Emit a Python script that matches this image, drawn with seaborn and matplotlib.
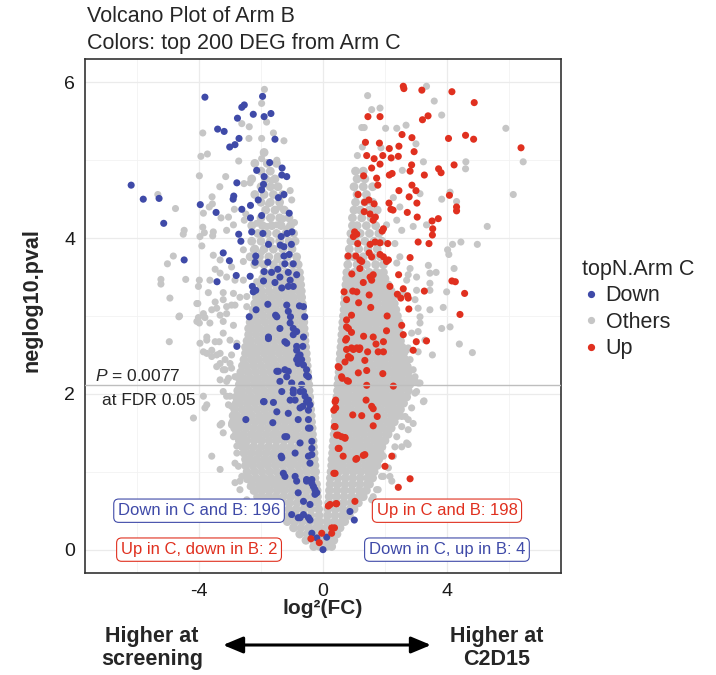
import pandas as pd
import matplotlib.pyplot as plt
import seaborn as sns
from matplotlib.lines import Line2D

# colours
col_down = '#3F4AA8'
col_up = '#E0301F'
col_other = '#C6C6C6'

# dense grey core: (neglog10 p, [log2FC ...])
tip_rows = [
    (0.04, [-0.3, -0.1, 0.1, 0.28]),
    (0.12, [-0.55, -0.31, -0.07, 0.17, 0.35]),
    (0.20, [-0.75, -0.51, -0.27, -0.06, 0.06, 0.21, 0.45]),
]

left_rows = [
    (0.28, [-0.95, -0.71, -0.47, -0.23, -0.10]),
    (0.36, [-1.15, -0.91, -0.67, -0.43, -0.19, -0.11]),
    (0.44, [-1.35, -1.11, -0.87, -0.63, -0.39, -0.13]),
    (0.52, [-1.58, -1.34, -1.10, -0.86, -0.62, -0.38, -0.14]),
    (0.60, [-1.80, -1.56, -1.32, -1.08, -0.84, -0.60, -0.36, -0.16]),
    (0.68, [-2.00, -1.76, -1.52, -1.28, -1.04, -0.80, -0.56, -0.32, -0.18]),
    (0.76, [-2.20, -1.96, -1.72, -1.48, -1.24, -1.00, -0.76, -0.52, -0.30, -0.19]),
    (0.84, [-2.30, -2.06, -1.82, -1.58, -1.34, -1.10, -0.86, -0.62, -0.38, -0.21]),
    (0.92, [-2.40, -2.16, -1.92, -1.68, -1.44, -1.20, -0.96, -0.72, -0.48, -0.26]),
    (1.00, [-2.45, -2.21, -1.97, -1.73, -1.49, -1.25, -1.01, -0.77, -0.53, -0.29, -0.24]),
    (1.08, [-2.50, -2.26, -2.02, -1.78, -1.54, -1.30, -1.06, -0.82, -0.58, -0.34, -0.26]),
    (1.16, [-2.50, -2.38, -2.14, -1.90, -1.66, -1.42, -1.18, -0.94, -0.70, -0.46, -0.28]),
    (1.24, [-2.55, -2.31, -2.07, -1.83, -1.59, -1.35, -1.11, -0.87, -0.63, -0.39, -0.29]),
    (1.32, [-2.60, -2.48, -2.24, -2.00, -1.76, -1.52, -1.28, -1.04, -0.80, -0.56, -0.31]),
    (1.40, [-2.70, -2.46, -2.22, -1.98, -1.74, -1.50, -1.26, -1.02, -0.78, -0.54, -0.32]),
    (1.48, [-2.80, -2.56, -2.32, -2.08, -1.84, -1.60, -1.36, -1.12, -0.88, -0.64, -0.40, -0.34]),
    (1.56, [-2.85, -2.73, -2.49, -2.25, -2.01, -1.77, -1.53, -1.29, -1.05, -0.81, -0.57, -0.35]),
    (1.64, [-2.90, -2.66, -2.42, -2.18, -1.94, -1.70, -1.46, -1.22, -0.98, -0.74, -0.50, -0.37]),
    (1.72, [-2.90, -2.78, -2.54, -2.30, -2.06, -1.82, -1.58, -1.34, -1.10, -0.86, -0.62, -0.38]),
    (1.80, [-2.85, -2.61, -2.37, -2.13, -1.89, -1.65, -1.41, -1.17, -0.93, -0.69, -0.45, -0.40]),
    (1.88, [-2.80, -2.68, -2.44, -2.20, -1.96, -1.72, -1.48, -1.24, -1.00, -0.76, -0.52, -0.42]),
    (1.96, [-2.80, -2.56, -2.32, -2.08, -1.84, -1.60, -1.36, -1.12, -0.88, -0.64, -0.43]),
    (2.04, [-2.75, -2.63, -2.39, -2.15, -1.91, -1.67, -1.43, -1.19, -0.95, -0.71, -0.47, -0.45]),
    (2.12, [-2.70, -2.46, -2.22, -1.98, -1.74, -1.50, -1.26, -1.02, -0.78, -0.54, -0.46]),
    (2.20, [-2.70, -2.58, -2.34, -2.10, -1.86, -1.62, -1.38, -1.14, -0.90, -0.66, -0.48]),
    (2.28, [-2.65, -2.41, -2.17, -1.93, -1.69, -1.45, -1.21, -0.97, -0.73, -0.50]),
    (2.36, [-2.60, -2.48, -2.24, -2.00, -1.76, -1.52, -1.28, -1.04, -0.80, -0.56, -0.51]),
    (2.44, [-2.55, -2.31, -2.07, -1.83, -1.59, -1.35, -1.11, -0.87, -0.63, -0.53]),
    (2.52, [-2.50, -2.38, -2.14, -1.90, -1.66, -1.42, -1.18, -0.94, -0.70, -0.54]),
    (2.60, [-2.50, -2.26, -2.02, -1.78, -1.54, -1.30, -1.06, -0.82, -0.58, -0.56]),
    (2.68, [-2.45, -2.33, -2.09, -1.85, -1.61, -1.37, -1.13, -0.89, -0.65, -0.58]),
    (2.76, [-2.40, -2.16, -1.92, -1.68, -1.44, -1.20, -0.96, -0.72, -0.59]),
    (2.84, [-2.40, -2.28, -2.04, -1.80, -1.56, -1.32, -1.08, -0.84, -0.61]),
    (2.92, [-2.35, -2.11, -1.87, -1.63, -1.39, -1.15, -0.91, -0.67, -0.62]),
    (3.00, [-2.30, -2.18, -1.94, -1.70, -1.46, -1.22, -0.98, -0.74, -0.64]),
    (3.08, [-2.25, -2.01, -1.77, -1.53, -1.29, -1.05, -0.81, -0.66]),
    (3.16, [-2.20, -2.08, -1.84, -1.60, -1.36, -1.12, -0.88, -0.67]),
    (3.24, [-2.15, -1.91, -1.67, -1.43, -1.19, -0.95, -0.71, -0.69]),
    (3.32, [-2.10, -1.98, -1.74, -1.50, -1.26, -1.02, -0.78, -0.70]),
    (3.40, [-2.00, -1.76, -1.52, -1.28, -1.04, -0.80, -0.72]),
    (3.48, [-1.95, -1.83, -1.59, -1.35, -1.11, -0.87, -0.74]),
    (3.56, [-1.90, -1.66, -1.42, -1.18, -0.94, -0.76]),
    (3.66, [-2.2, -1.9, -1.6, -1.3, -1.0, -0.8]),
    (3.76, [-2.35, -2.05, -1.75, -1.45, -1.15, -0.85]),
    (3.86, [-2.2, -1.9, -1.6, -1.3, -1.0]),
    (3.96, [-2.3, -2.0, -1.7, -1.4, -1.1, -0.9]),
    (4.06, [-2.1, -1.8, -1.5, -1.2, -0.95]),
    (4.16, [-2.3, -1.95, -1.65, -1.35, -1.05]),
    (4.26, [-2.0, -1.7, -1.4, -1.1]),
    (4.36, [-1.85, -1.55, -1.25]),
    (4.46, [-2.0, -1.7, -1.4]),
    (4.56, [-2.2, -1.9, -1.6, -1.3]),
    (4.66, [-2.0, -1.7, -1.45]),
    (4.76, [-2.3, -1.85, -1.55]),
    (4.86, [-2.0, -1.7]),
    (4.96, [-2.2, -1.8, -1.5]),
    (5.10, [-1.9]),
]

right_rows = [
    (0.28, [0.12, 0.36, 0.55]),
    (0.36, [0.13, 0.37, 0.61, 0.70]),
    (0.44, [0.15, 0.39, 0.63, 0.85]),
    (0.52, [0.16, 0.40, 0.64, 0.88, 1.00]),
    (0.60, [0.18, 0.42, 0.66, 0.90, 1.14]),
    (0.68, [0.20, 0.44, 0.68, 0.92, 1.16, 1.30]),
    (0.76, [0.21, 0.45, 0.69, 0.93, 1.17, 1.40]),
    (0.84, [0.23, 0.47, 0.71, 0.95, 1.19, 1.43, 1.50]),
    (0.92, [0.24, 0.48, 0.72, 0.96, 1.20, 1.44, 1.60]),
    (1.00, [0.26, 0.50, 0.74, 0.98, 1.22, 1.46, 1.65]),
    (1.08, [0.28, 0.40, 0.64, 0.88, 1.12, 1.36, 1.60, 1.75]),
    (1.16, [0.29, 0.53, 0.77, 1.01, 1.25, 1.49, 1.73, 1.80]),
    (1.24, [0.31, 0.43, 0.67, 0.91, 1.15, 1.39, 1.63, 1.85]),
    (1.32, [0.32, 0.56, 0.80, 1.04, 1.28, 1.52, 1.76, 1.90]),
    (1.40, [0.34, 0.46, 0.70, 0.94, 1.18, 1.42, 1.66, 1.90, 2.00]),
    (1.48, [0.36, 0.60, 0.84, 1.08, 1.32, 1.56, 1.80, 2.04, 2.10]),
    (1.56, [0.37, 0.49, 0.73, 0.97, 1.21, 1.45, 1.69, 1.93, 2.17, 2.20]),
    (1.64, [0.39, 0.63, 0.87, 1.11, 1.35, 1.59, 1.83, 2.07, 2.30]),
    (1.72, [0.40, 0.52, 0.76, 1.00, 1.24, 1.48, 1.72, 1.96, 2.20, 2.40]),
    (1.80, [0.42, 0.66, 0.90, 1.14, 1.38, 1.62, 1.86, 2.10, 2.34, 2.50]),
    (1.88, [0.44, 0.56, 0.80, 1.04, 1.28, 1.52, 1.76, 2.00, 2.24, 2.48, 2.60]),
    (1.96, [0.45, 0.69, 0.93, 1.17, 1.41, 1.65, 1.89, 2.13, 2.37, 2.61, 2.70]),
    (2.04, [0.47, 0.59, 0.83, 1.07, 1.31, 1.55, 1.79, 2.03, 2.27, 2.51, 2.75]),
    (2.12, [0.48, 0.72, 0.96, 1.20, 1.44, 1.68, 1.92, 2.16, 2.40, 2.64, 2.80]),
    (2.20, [0.50, 0.62, 0.86, 1.10, 1.34, 1.58, 1.82, 2.06, 2.30, 2.54, 2.78]),
    (2.28, [0.52, 0.76, 1.00, 1.24, 1.48, 1.72, 1.96, 2.20, 2.44, 2.68, 2.75]),
    (2.36, [0.53, 0.65, 0.89, 1.13, 1.37, 1.61, 1.85, 2.09, 2.33, 2.57, 2.70]),
    (2.44, [0.55, 0.79, 1.03, 1.27, 1.51, 1.75, 1.99, 2.23, 2.47, 2.65]),
    (2.52, [0.56, 0.68, 0.92, 1.16, 1.40, 1.64, 1.88, 2.12, 2.36, 2.60]),
    (2.60, [0.58, 0.82, 1.06, 1.30, 1.54, 1.78, 2.02, 2.26, 2.50, 2.55]),
    (2.68, [0.60, 0.72, 0.96, 1.20, 1.44, 1.68, 1.92, 2.16, 2.40, 2.50]),
    (2.76, [0.61, 0.85, 1.09, 1.33, 1.57, 1.81, 2.05, 2.29, 2.50]),
    (2.84, [0.63, 0.75, 0.99, 1.23, 1.47, 1.71, 1.95, 2.19, 2.43, 2.45]),
    (2.92, [0.64, 0.88, 1.12, 1.36, 1.60, 1.84, 2.08, 2.32, 2.45]),
    (3.00, [0.66, 0.78, 1.02, 1.26, 1.50, 1.74, 1.98, 2.22, 2.40]),
    (3.08, [0.68, 0.92, 1.16, 1.40, 1.64, 1.88, 2.12, 2.35]),
    (3.16, [0.69, 0.81, 1.05, 1.29, 1.53, 1.77, 2.01, 2.25, 2.30]),
    (3.24, [0.71, 0.95, 1.19, 1.43, 1.67, 1.91, 2.15, 2.25]),
    (3.32, [0.72, 0.84, 1.08, 1.32, 1.56, 1.80, 2.04, 2.20]),
    (3.40, [0.74, 0.98, 1.22, 1.46, 1.70, 1.94, 2.10]),
    (3.48, [0.76, 0.88, 1.12, 1.36, 1.60, 1.84, 2.00]),
    (3.56, [0.77, 1.01, 1.25, 1.49, 1.73, 1.95]),
    (3.66, [0.8, 1.1, 1.4, 1.7, 1.95]),
    (3.76, [0.82, 1.0, 1.3, 1.6, 1.85]),
    (3.86, [0.85, 1.15, 1.45, 1.75]),
    (3.96, [0.9, 1.05, 1.35, 1.65, 1.9]),
    (4.06, [0.9, 1.2, 1.5, 1.8]),
    (4.16, [0.95, 1.1, 1.4, 1.7]),
    (4.26, [0.95, 1.25, 1.55]),
    (4.36, [1.0, 1.2, 1.5, 1.75]),
    (4.46, [1.05, 1.35, 1.6]),
    (4.56, [1.1, 1.4]),
    (4.66, [1.0, 1.3, 1.6]),
    (4.76, [1.1, 1.35]),
    (4.86, [1.05, 1.3]),
]

# scattered grey points outside the core (log2FC, neglog10 p)
sparse_gray = [
    (-1.89, 5.91), (-1.98, 5.73), (-2.62, 5.47), (-2.38, 5.43), (-1.82, 5.49), (-3.88, 5.35),
    (-1.60, 5.35), (-1.26, 5.25), (-2.39, 5.28), (-1.98, 5.28), (-3.94, 5.05), (-3.73, 5.08),
    (-2.72, 4.99), (-1.92, 5.09), (-1.98, 5.02), (-1.49, 5.00), (-3.99, 4.80), (-3.14, 4.79),
    (-3.33, 4.66), (-2.55, 4.70), (-2.35, 4.71), (-1.66, 4.74), (-1.49, 4.66), (-1.06, 4.61),
    (-5.33, 4.56), (-3.58, 4.53), (-3.57, 4.44), (-3.67, 4.40), (-4.76, 4.38), (-3.86, 4.32),
    (-3.29, 4.26), (-3.05, 4.27), (-2.86, 4.37), (-2.54, 4.23), (-2.49, 4.31), (-1.76, 4.44),
    (-1.39, 4.40), (-1.01, 4.49), (-1.66, 4.27), (-1.28, 4.25), (-0.92, 4.20), (-4.48, 4.10),
    (-4.51, 4.05), (-3.88, 4.14), (-3.83, 4.07), (-3.97, 4.02), (-3.54, 4.08), (-3.56, 4.03),
    (-3.11, 4.10), (-2.89, 4.17), (-2.14, 4.19), (-1.82, 4.15), (-1.49, 4.17), (-1.17, 4.12),
    (-3.91, 3.90), (-4.83, 3.77), (-5.02, 3.67), (-3.54, 3.78), (-3.32, 3.72), (-2.57, 3.85),
    (-2.25, 3.85), (-1.98, 3.82), (-1.60, 3.85), (-3.48, 3.60), (-3.32, 3.55), (-2.95, 3.63),
    (-2.57, 3.70), (-2.03, 3.68), (-1.49, 3.72), (-0.85, 3.72), (-5.23, 3.47), (-5.23, 3.41),
    (-4.43, 3.47), (-3.99, 3.46), (-3.65, 3.46), (-3.11, 3.50), (-2.84, 3.46), (-2.57, 3.46),
    (-2.14, 3.44), (-1.33, 3.44), (-0.80, 3.44), (-4.02, 3.38), (-3.70, 3.30), (-3.22, 3.30),
    (-2.89, 3.29), (-4.94, 3.23), (-4.04, 3.16), (-3.48, 3.18), (-3.22, 3.21), (-2.68, 3.24),
    (-2.46, 3.25), (-3.43, 3.10), (-3.11, 3.03), (-2.84, 3.14), (-2.46, 3.12), (-2.03, 3.16),
    (-4.65, 2.99), (-4.02, 2.98), (-3.81, 2.98), (-4.63, 3.00), (-4.96, 2.67), (-3.99, 2.91),
    (-3.97, 2.65), (-3.75, 2.69), (-3.86, 2.54), (-3.59, 2.56), (-3.43, 2.50), (-3.35, 2.67),
    (-4.18, 1.69), (-3.81, 1.82), (-3.59, 1.20), (-3.16, 2.31), (-3.00, 2.39), (-3.32, 2.39),
    (-3.11, 2.16), (-2.78, 2.22), (-3.11, 1.97), (-2.95, 1.84), (-2.78, 1.71), (-2.95, 1.60),
    (-2.78, 1.45), (-3.32, 1.60), (-2.78, 1.33), (-2.73, 1.07), (-2.84, 0.86), (-2.68, 0.77),
    (-2.46, 0.90), (-2.46, 0.64), (-2.25, 0.75), (-1.98, 0.68), (-1.82, 0.60), (-1.60, 0.51),
    (-4.07, 3.16), (-3.86, 3.03), (-3.59, 3.08), (-3.32, 3.01), (-3.11, 3.12), (-2.95, 3.14),
    (-4.07, 2.93), (-3.65, 2.91), (-3.22, 2.93), (-2.89, 2.88), (-3.75, 2.73), (-3.48, 2.67),
    (-3.22, 2.78), (-3.00, 2.69), (-2.78, 2.65), (-3.75, 2.52), (-3.59, 2.48), (-3.32, 2.52),
    (-3.16, 2.44), (-2.95, 2.50), (-3.43, 2.35), (-3.22, 2.31), (-2.95, 2.33), (-3.32, 2.18),
    (-3.05, 2.20), (-2.84, 2.22), (-3.86, 1.97), (-3.75, 1.86), (-3.22, 2.03), (-3.00, 1.97),
    (-3.05, 1.86), (-3.27, 1.62), (-3.22, 1.50), (-2.95, 1.62), (-2.89, 1.45), (-2.68, 1.41),
    (-3.32, 1.03), (-2.78, 1.24), (-2.84, 1.11), (-2.62, 0.94), (-2.41, 1.15), (-2.68, 0.88),
    (-2.35, 0.81), (-2.03, 0.77), (-2.14, 0.68),
    (3.34, 5.95), (1.44, 5.83), (3.59, 5.76), (1.57, 5.65), (1.84, 5.67), (3.83, 5.58),
    (1.25, 5.42), (1.33, 5.42), (2.02, 5.41), (2.38, 5.41), (2.68, 5.45), (5.90, 5.41),
    (1.27, 5.17), (1.11, 5.06), (1.87, 5.16), (3.00, 5.21), (3.24, 4.98), (2.56, 4.87),
    (4.61, 4.98), (4.60, 4.89), (6.46, 4.98), (6.14, 4.56), (4.10, 4.59), (4.31, 4.47),
    (3.83, 4.50), (3.13, 4.57), (2.48, 4.40), (2.27, 4.52), (5.30, 4.15), (3.34, 4.17),
    (2.91, 4.15), (2.54, 4.10), (2.38, 4.23), (2.05, 4.17), (4.18, 3.92), (4.45, 3.95),
    (4.98, 3.92), (4.02, 3.85), (4.06, 3.79), (4.23, 3.61), (3.99, 3.31), (3.88, 3.11),
    (3.65, 3.56), (3.45, 3.55), (3.40, 3.65), (2.81, 3.61), (2.75, 3.53), (2.32, 3.93),
    (2.48, 3.76), (2.38, 3.68), (3.45, 3.42), (3.45, 3.33), (3.02, 3.50), (3.02, 3.33),
    (2.70, 3.46), (2.59, 3.29), (3.07, 3.10), (3.45, 3.08), (3.13, 2.99), (3.83, 2.84),
    (4.10, 2.86), (4.40, 2.64), (4.82, 2.53), (3.53, 2.50), (3.13, 2.91), (3.26, 1.91),
    (3.02, 2.03), (2.97, 2.16), (3.13, 2.14), (2.91, 2.31), (2.81, 2.44), (2.70, 2.56),
    (2.38, 2.61), (2.75, 1.67), (2.54, 1.71), (2.75, 1.54), (2.75, 1.35), (2.54, 1.32),
    (2.27, 1.20), (2.16, 0.94), (1.95, 0.94), (1.78, 0.77), (1.62, 0.68), (2.97, 3.21),
    (2.86, 2.78), (3.07, 2.80), (3.29, 2.69), (2.75, 2.59), (3.07, 2.54), (2.75, 2.35),
    (2.97, 2.22), (3.07, 2.14), (3.24, 1.90), (2.97, 2.01), (2.86, 1.82), (2.65, 1.71),
    (2.91, 1.62), (2.54, 1.58), (2.70, 1.37), (2.38, 1.45), (2.32, 1.32), (1.95, 1.20),
    (2.11, 1.05), (1.89, 0.94), (2.22, 0.88), (1.73, 0.77), (1.57, 0.64),
]

# top 200 DEG from Arm C, down-regulated
down_pts = [
    (-3.81, 5.81), (-1.95, 5.82), (-2.62, 5.68), (-2.54, 5.71), (-2.25, 5.59), (-1.68, 5.60),
    (-1.90, 5.56), (-2.76, 5.54), (-3.40, 5.40), (-3.19, 5.37), (-2.71, 5.28), (-2.84, 5.20),
    (-3.01, 5.17), (-1.55, 5.27), (-1.72, 4.97), (-2.14, 4.87), (-1.32, 4.90), (-1.33, 4.81),
    (-1.17, 4.79), (-1.90, 4.79), (-1.92, 4.69), (-1.98, 4.62), (-2.78, 4.71), (-6.19, 4.68),
    (-5.80, 4.50), (-5.29, 4.51), (-5.14, 4.19), (-2.88, 4.54), (-2.90, 4.50), (-3.96, 4.43),
    (-3.45, 4.33), (-2.62, 4.37), (-2.34, 4.42), (-2.09, 4.49), (-1.44, 4.52), (-1.26, 4.56),
    (-2.34, 4.26), (-1.98, 4.29), (-1.09, 4.32), (-2.30, 4.08), (-1.94, 4.06), (-2.72, 4.05),
    (-2.65, 3.96), (-1.35, 4.02), (-1.16, 4.06), (-1.00, 4.08), (-1.76, 3.92), (-1.38, 3.91),
    (-1.26, 3.89), (-1.02, 3.92), (-4.48, 3.72), (-3.22, 3.81), (-3.02, 3.71), (-2.17, 3.77),
    (-2.19, 3.69), (-1.78, 3.69), (-1.26, 3.77), (-1.09, 3.79), (-0.96, 3.67), (-1.23, 3.67),
    (-2.80, 3.52), (-2.35, 3.51), (-1.90, 3.57), (-1.66, 3.56), (-1.46, 3.60), (-1.39, 3.50),
    (-1.12, 3.56), (-0.85, 3.53), (-3.42, 3.44), (-1.92, 3.45), (-1.55, 3.43), (-1.06, 3.46),
    (-0.96, 3.38), (-2.28, 3.38), (-2.25, 3.31), (-2.17, 3.33), (-1.33, 3.36), (-1.12, 3.38),
    (-1.78, 3.15), (-2.16, 3.08), (-1.17, 3.14), (-1.12, 3.06), (-0.76, 3.13), (-0.63, 3.12),
    (-2.38, 2.99), (-1.49, 2.99), (-1.05, 2.99), (-0.59, 2.99), (-1.06, 2.91), (-0.96, 2.84),
    (-0.85, 2.80), (-1.76, 2.73), (-1.23, 2.67), (-0.63, 2.73), (-0.65, 2.61), (-0.74, 2.50),
    (-0.69, 2.44), (-0.63, 2.37), (-0.85, 2.56), (-0.80, 2.48), (-1.49, 2.29), (-1.23, 2.31),
    (-1.17, 2.22), (-0.47, 2.22), (-1.39, 2.16), (-1.01, 2.14), (-0.69, 2.12), (-0.63, 2.03),
    (-0.58, 1.97), (-0.53, 1.90), (-1.33, 2.03), (-0.96, 2.01), (-0.90, 1.92), (-1.92, 1.90),
    (-1.60, 1.89), (-0.74, 1.82), (-0.47, 1.79), (-1.49, 1.77), (-1.12, 1.75), (-0.80, 1.67),
    (-0.47, 1.56), (-1.23, 1.45), (-0.74, 1.37), (-0.36, 1.39), (-0.36, 1.30), (-0.90, 1.24),
    (-0.36, 1.22), (-1.33, 1.18), (-1.28, 0.98), (-1.23, 0.94), (-0.85, 0.88), (-0.36, 0.90),
    (-0.31, 0.81), (-0.20, 0.73), (-0.80, 0.73), (-1.01, 0.45), (-0.74, 0.41), (-0.63, 0.45),
    (-0.42, 0.38), (-0.36, 0.21), (-0.20, 0.15), (0.00, 0.00), (-2.78, 2.61), (-2.49, 1.67),
    (-1.62, 1.63), (-1.35, 1.20), (-1.53, 3.01), (-1.39, 2.84), (-0.96, 2.76), (-1.17, 2.65),
    (-0.85, 2.61), (-0.85, 2.44), (-0.80, 2.39), (-0.53, 2.31), (-0.53, 2.24), (-1.44, 2.29),
    (-1.12, 2.29), (-0.96, 2.05), (-0.74, 2.03), (-0.47, 1.92), (-0.42, 1.86), (-1.06, 1.92),
    (-0.65, 1.84), (-0.47, 1.67), (-0.42, 1.56), (-1.17, 1.45), (-0.47, 1.20), (-0.42, 1.11),
    (-0.90, 0.94), (-0.53, 0.90), (-0.36, 0.85), (-0.26, 0.77), (-0.26, 0.71), (-0.63, 0.62),
    (-0.42, 0.58), (-0.80, 0.41), (-0.47, 0.41), (-1.76, 2.71), (-1.90, 1.90), (-0.53, 0.88),
    (0.87, 0.49), (1.01, 0.38), (0.12, 0.16),
]

# top 200 DEG from Arm C, up-regulated
up_pts = [
    (2.59, 5.95), (2.61, 5.92), (3.19, 5.90), (4.16, 5.88), (4.88, 5.74), (1.45, 5.56),
    (1.84, 5.56), (3.21, 5.52), (3.39, 5.57), (2.55, 5.33), (2.87, 5.29), (4.05, 5.28),
    (4.60, 5.32), (4.86, 5.27), (6.39, 5.16), (1.37, 5.23), (1.82, 5.22), (2.14, 5.15),
    (2.45, 5.18), (2.94, 5.11), (1.41, 5.06), (1.65, 5.02), (1.93, 5.06), (2.20, 5.03),
    (2.43, 5.05), (1.57, 4.90), (1.84, 4.95), (2.86, 4.94), (2.81, 4.86), (3.73, 4.89),
    (3.81, 4.84), (4.23, 4.94), (1.31, 4.80), (1.73, 4.77), (2.14, 4.81), (2.23, 4.83),
    (3.27, 4.81), (1.77, 4.68), (2.87, 4.68), (3.00, 4.61), (2.45, 4.61), (1.13, 4.56),
    (2.78, 4.53), (4.08, 4.55), (1.34, 4.46), (1.48, 4.49), (1.65, 4.44), (2.13, 4.45),
    (2.19, 4.37), (3.03, 4.45), (4.31, 4.40), (4.31, 4.35), (1.33, 4.34), (1.52, 4.31),
    (2.26, 4.36), (2.72, 4.33), (1.69, 4.27), (1.62, 4.23), (3.04, 4.27), (3.52, 4.22),
    (3.72, 4.25), (1.95, 4.12), (1.91, 4.09), (3.54, 4.12), (3.53, 4.04), (1.02, 4.08),
    (1.09, 4.05), (0.98, 4.02), (1.12, 3.93), (1.52, 3.92), (1.68, 3.95), (1.84, 3.94),
    (2.09, 3.93), (3.07, 3.95), (3.42, 3.93), (0.81, 3.77), (1.06, 3.77), (1.19, 3.72),
    (1.25, 3.70), (1.49, 3.81), (1.57, 3.76), (1.84, 3.79), (1.95, 3.76), (2.05, 3.70),
    (2.11, 3.72), (2.81, 3.75), (1.19, 3.61), (0.93, 3.54), (1.52, 3.50), (1.62, 3.53),
    (1.57, 3.46), (1.30, 3.43), (2.44, 3.53), (4.16, 3.45), (4.27, 3.44), (0.68, 3.31),
    (0.96, 3.32), (1.09, 3.31), (2.16, 3.38), (2.40, 3.28), (2.51, 3.23), (2.73, 3.26),
    (2.75, 3.23), (2.59, 3.35), (3.27, 3.32), (4.57, 3.29), (0.76, 3.21), (1.15, 3.17),
    (1.49, 3.27), (1.54, 3.11), (2.07, 3.00), (2.77, 3.09), (4.42, 3.02), (0.76, 2.86),
    (0.92, 2.79), (1.31, 2.74), (1.62, 2.73), (2.05, 2.81), (2.54, 2.88), (2.59, 2.76),
    (3.01, 2.67), (3.34, 2.68), (0.73, 2.69), (1.71, 2.64), (1.95, 2.67), (0.76, 2.57),
    (0.98, 2.57), (1.17, 2.57), (1.44, 2.54), (1.78, 2.54), (1.95, 2.54), (2.91, 2.56),
    (0.89, 2.46), (1.35, 2.43), (0.71, 2.41), (0.52, 2.34), (1.14, 2.27), (1.41, 2.30),
    (1.93, 2.26), (0.62, 2.20), (0.78, 2.17), (1.41, 2.11), (2.27, 2.10), (0.41, 1.92),
    (0.35, 1.79), (0.41, 1.82), (1.39, 1.92), (1.57, 1.84), (1.62, 1.81), (0.96, 1.73),
    (1.25, 1.72), (1.62, 1.59), (0.37, 1.58), (0.60, 1.45), (0.71, 1.44), (0.44, 1.47),
    (0.52, 1.30), (0.65, 1.20), (1.06, 1.16), (1.30, 1.21), (2.22, 1.20), (2.00, 1.07),
    (0.35, 0.98), (2.43, 0.80), (2.81, 0.91), (1.03, 0.62), (0.42, 0.59), (0.17, 0.56),
    (0.37, 0.28), (0.28, 0.21), (-0.04, 0.21), (0.23, 0.58), (0.44, 0.59), (0.28, 0.28),
    (0.92, 3.01), (0.76, 2.95), (0.82, 2.84), (0.76, 2.71), (0.92, 2.59), (1.09, 2.59),
    (1.19, 2.59), (0.82, 2.48), (0.49, 2.35), (0.60, 2.22), (0.82, 2.16), (0.39, 1.90),
    (1.75, 1.71), (0.39, 1.58), (0.49, 1.47), (0.71, 1.43), (0.49, 1.30), (1.09, 1.17),
    (1.35, 1.22), (0.39, 0.98),
    (-0.39, 0.14), (-0.12, 0.09),
]

p_cut = 2.1135  # -log10(0.0077)
pal = {'Others': col_other, 'Down': col_down, 'Up': col_up}
cols = ['log2FC', 'neglog10.pval', 'topN.Arm C']

core = pd.DataFrame([(x, y, 'Others') for y, xs in tip_rows + left_rows + right_rows for x in xs],
                    columns=cols)
marks = pd.DataFrame([(x, y, 'Others') for x, y in sparse_gray]
                     + [(x, y, 'Down') for x, y in down_pts]
                     + [(x, y, 'Up') for x, y in up_pts], columns=cols)

sns.set_style('white')
plt.rcParams['font.family'] = ['Liberation Sans', 'DejaVu Sans']
plt.rcParams['axes.unicode_minus'] = False
plt.rcParams['mathtext.fontset'] = 'custom'
plt.rcParams['mathtext.rm'] = 'Liberation Sans'
plt.rcParams['mathtext.it'] = 'Liberation Sans:italic'

fig = plt.figure(figsize=(7.16, 6.75), dpi=100)
ax = fig.add_axes([85 / 716, 1 - 573 / 675, 476 / 716, 514 / 675])

# the packed core is drawn a touch larger so overlapping points read as one mass
sns.scatterplot(data=core, x='log2FC', y='neglog10.pval', hue='topN.Arm C', palette=pal,
                s=40, linewidth=0, legend=False, ax=ax, zorder=2)
sns.scatterplot(data=marks, x='log2FC', y='neglog10.pval', hue='topN.Arm C', palette=pal,
                s=26, linewidth=0, legend=False, ax=ax, zorder=2)

ax.set_xlim(-7.68, 7.68)
ax.set_ylim(-0.3, 6.3)
ax.set_xticks([-4, 0, 4])
ax.set_xticks([-6, -2, 2, 6], minor=True)
ax.set_yticks([0, 2, 4, 6])
ax.set_yticks([1, 3, 5], minor=True)
ax.set_axisbelow(True)
ax.grid(which='major', color='#EBEBEB', lw=0.9)
ax.grid(which='minor', color='#F2F2F2', lw=0.6)
ax.tick_params(which='major', length=4, width=1, color='#333333',
               labelsize=14, labelcolor='#1a1a1a', pad=3)
ax.tick_params(which='minor', length=0)
for sp in ax.spines.values():
    sp.set_color('#333333')
    sp.set_linewidth(1.2)
ax.set_xlabel('')
ax.set_ylabel('')

ax.axhline(p_cut, color='#BEBEBE', lw=1.0, zorder=3)
ax.text(-7.35, 2.23, '$P$ = 0.0077', fontsize=12.5, ha='left', va='center', zorder=4)
ax.text(-7.14, 1.92, 'at FDR 0.05', fontsize=12.5, ha='left', va='center', zorder=4)

box = dict(boxstyle='round,pad=0.25,rounding_size=0.3', fc='white', lw=0.8)
ax.text(-4, 0.5, 'Down in C and B: 196', color=col_down, fontsize=12, ha='center',
        va='center', bbox=dict(box, ec=col_down), zorder=5)
ax.text(-4, 0.0, 'Up in C, down in B: 2', color=col_up, fontsize=12, ha='center',
        va='center', bbox=dict(box, ec=col_up), zorder=5)
ax.text(4, 0.5, 'Up in C and B: 198', color=col_up, fontsize=12, ha='center',
        va='center', bbox=dict(box, ec=col_up), zorder=5)
ax.text(4, 0.0, 'Down in C, up in B: 4', color=col_down, fontsize=12, ha='center',
        va='center', bbox=dict(box, ec=col_down), zorder=5)

fig.text(87 / 716, 1 - 17 / 675, 'Volcano Plot of Arm B', fontsize=15.5, va='center')
fig.text(87 / 716, 1 - 43 / 675, 'Colors: top 200 DEG from Arm C', fontsize=15.5, va='center')
fig.text(323 / 716, 1 - 609 / 675, 'log²(FC)', fontsize=15, fontweight='bold',
         ha='center', va='center')
fig.text(32 / 716, 1 - 300 / 675, 'neglog10.pval', fontsize=15.5, fontweight='bold',
         rotation=90, ha='center', va='center')

fig.text(152 / 716, 1 - 648 / 675, 'Higher at\nscreening', fontsize=15.5, fontweight='bold',
         ha='center', va='center', linespacing=1.15)
fig.text(497 / 716, 1 - 648 / 675, 'Higher at\nC2D15', fontsize=15.5, fontweight='bold',
         ha='center', va='center', linespacing=1.15)
ax.annotate('', xy=(431 / 716, 1 - 645 / 675), xytext=(223 / 716, 1 - 645 / 675),
            xycoords='figure fraction', textcoords='figure fraction', annotation_clip=False,
            arrowprops=dict(arrowstyle='<|-|>,head_length=0.6,head_width=0.25',
                            mutation_scale=20, color='black', lw=2.2,
                            shrinkA=0, shrinkB=0))

handles = [Line2D([], [], marker='o', ls='', color=c, markersize=4.2)
           for c in (col_down, col_other, col_up)]
leg = fig.legend(handles, ['Down', 'Others', 'Up'], title='topN.Arm C',
                 loc='upper left', bbox_to_anchor=(582 / 716, 1 - 259 / 675),
                 frameon=False, fontsize=15.5, title_fontsize=15.5, borderpad=0,
                 handletextpad=0.3, handlelength=0.8, labelspacing=0.25,
                 borderaxespad=0, alignment='left')

fig.savefig('out.png', dpi=100)
